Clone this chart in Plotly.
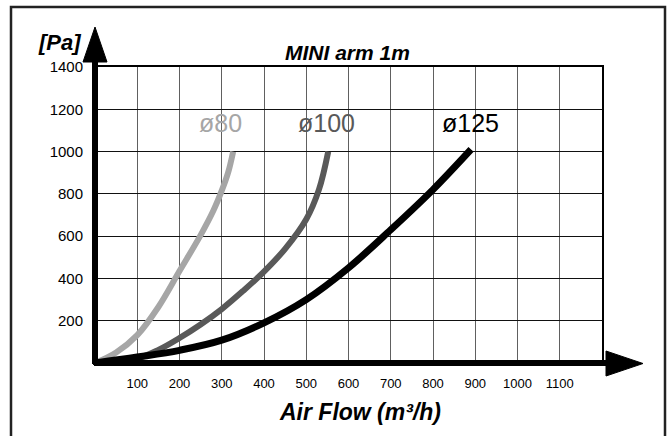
import plotly.graph_objects as go

# ---- data ----
flow_80 = [0, 50, 100, 150, 200, 250, 280, 300, 315, 327]
pa_80 = [0, 50, 132, 265, 435, 605, 720, 815, 900, 1000]

flow_100 = [0, 100, 150, 200, 250, 300, 350, 400, 450, 500, 530, 552]
pa_100 = [0, 22, 62, 118, 182, 255, 340, 432, 540, 680, 820, 1000]

flow_125 = [0, 100, 200, 300, 400, 500, 600, 700, 800, 890]
pa_125 = [0, 28, 60, 108, 190, 300, 450, 630, 820, 1010]

series_names = ["ø80", "ø100", "ø125"]
series_colors = ["#a6a6a6", "#595959", "#000000"]
label_pos = [(298, 1135), (549, 1135), (888, 1135)]

x_ticks = [100, 200, 300, 400, 500, 600, 700, 800, 900, 1000, 1100]
y_ticks = [200, 400, 600, 800, 1000, 1200, 1400]

title_text = "MINI arm 1m"
x_title = "Air Flow (m³/h)"
y_title = "[Pa]"

# ---- layout geometry (pixels) ----
W, H = 670, 436
L, R, T, B = 95, 602, 67, 363
FONT = "Liberation Sans, Arial, sans-serif"


def px(xp):
    return (xp - L) / (R - L)


def py(yp):
    return (B - yp) / (B - T)


fig = go.Figure()
for xs, ys, name, col, w in zip([flow_80, flow_100, flow_125], [pa_80, pa_100, pa_125],
                                series_names, series_colors, [6, 6, 7]):
    fig.add_trace(go.Scatter(x=xs, y=ys, mode="lines", name=name,
                             line=dict(color=col, width=w, shape="spline", smoothing=1.0),
                             cliponaxis=False, showlegend=False))

for name, col, (lx, ly) in zip(series_names, series_colors, label_pos):
    fig.add_annotation(x=lx, y=ly, xref="x", yref="y", text=name, showarrow=False,
                       xanchor="center", yanchor="middle",
                       font=dict(family=FONT, size=25, color=col))

shapes = []
# outer frame
shapes.append(dict(type="rect", xref="paper", yref="paper", x0=px(11), x1=px(665),
                   y0=py(438), y1=py(7), line=dict(color="#222222", width=2.5), layer="below"))
# thick axes
shapes.append(dict(type="line", xref="paper", yref="paper", x0=px(95), x1=px(95),
                   y0=py(364), y1=py(60), line=dict(color="black", width=6)))
shapes.append(dict(type="line", xref="paper", yref="paper", x0=px(94), x1=px(608),
                   y0=py(363), y1=py(363), line=dict(color="black", width=6)))
# arrowheads
shapes.append(dict(type="path", xref="paper", yref="paper",
                   path=f"M {px(83)} {py(62)} L {px(107)} {py(62)} L {px(95)} {py(27)} Z",
                   fillcolor="black", line=dict(color="black", width=1)))
shapes.append(dict(type="path", xref="paper", yref="paper",
                   path=f"M {px(606)} {py(351)} L {px(606)} {py(376)} L {px(643)} {py(363.5)} Z",
                   fillcolor="black", line=dict(color="black", width=1)))

fig.update_layout(
    width=W, height=H,
    margin=dict(l=L, r=W - R, t=T, b=H - B, pad=0),
    paper_bgcolor="white", plot_bgcolor="white",
    shapes=shapes,
    font=dict(family=FONT, color="black"),
    annotations=list(fig.layout.annotations) + [
        dict(xref="paper", yref="paper", x=px(347.5), y=py(52), text=f"<b><i>{title_text}</i></b>",
             showarrow=False, xanchor="center", yanchor="middle",
             font=dict(family=FONT, size=21, color="black")),
        dict(xref="paper", yref="paper", x=px(360), y=py(412), text=f"<b><i>{x_title}</i></b>",
             showarrow=False, xanchor="center", yanchor="middle",
             font=dict(family=FONT, size=23, color="black")),
        dict(xref="paper", yref="paper", x=px(59.5), y=py(42), text=f"<b><i>{y_title}</i></b>",
             showarrow=False, xanchor="center", yanchor="middle",
             font=dict(family=FONT, size=22, color="black")),
    ],
)

fig.update_xaxes(range=[0, 1200], tickvals=x_ticks, ticktext=[str(v) for v in x_ticks],
                 showgrid=True, gridcolor="#606060", gridwidth=1.3,
                 showline=True, linecolor="black", linewidth=2, mirror=True,
                 zeroline=False, ticks="", ticklabelstandoff=7,
                 tickfont=dict(family=FONT, size=13, color="black"))
fig.update_yaxes(range=[0, 1400], tickvals=y_ticks, ticktext=[str(v) for v in y_ticks],
                 showgrid=True, gridcolor="#111111", gridwidth=1.3,
                 showline=True, linecolor="black", linewidth=2, mirror=True,
                 zeroline=False, ticks="", ticklabelstandoff=7,
                 tickfont=dict(family=FONT, size=15, color="black"))

fig.write_html("out.html", config={"displayModeBar": False},
               post_script="document.body.style.margin='0';document.body.style.overflow='hidden';")
